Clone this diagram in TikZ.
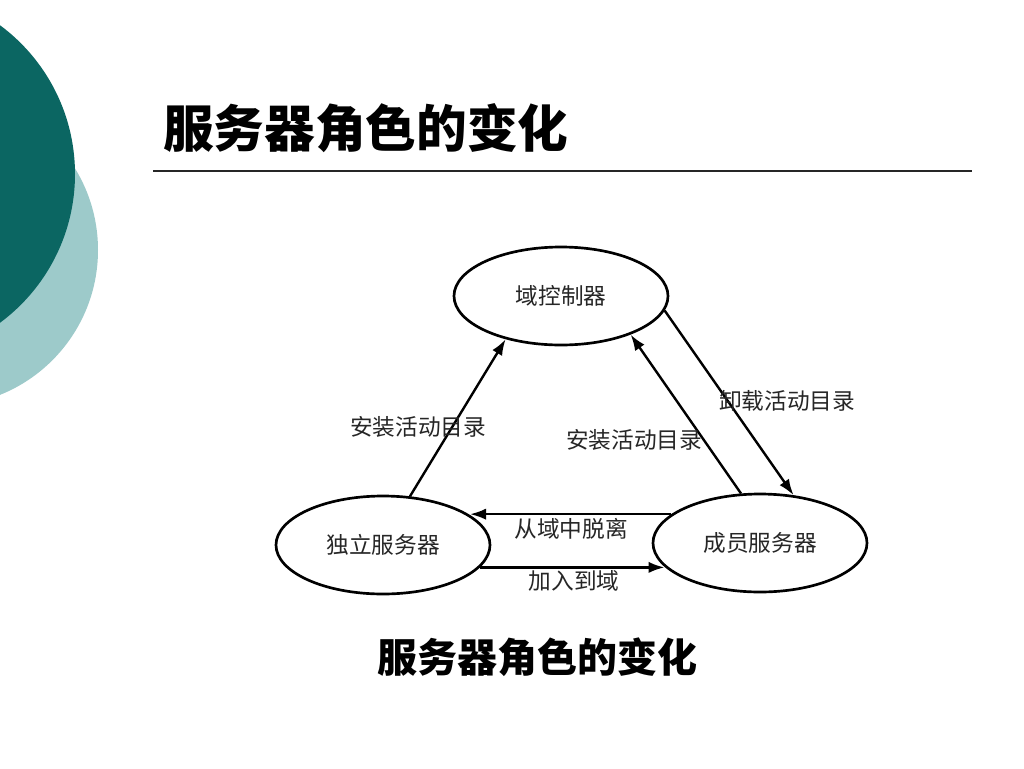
\documentclass[tikz,border=0pt]{standalone}
\usepackage{fontspec}
\newfontfamily\cjk{Noto Sans CJK SC}
\usetikzlibrary{shapes.geometric,arrows.meta}
\definecolor{darkteal}{HTML}{0B6662}
\definecolor{lightteal}{HTML}{9DCACA}
\tikzset{
  state/.style={draw=black, line width=2pt, ellipse, minimum width=160.5pt, minimum height=73.5pt, inner sep=0pt, font=\cjk\fontsize{17}{20}\selectfont, text=black!85},
  conn/.style={line width=1.8pt, -{Latex[length=12pt,width=8.5pt]}},
  lbl/.style={font=\cjk\fontsize{17}{20}\selectfont, text=black!85, inner sep=1pt}
}
\begin{document}
\begin{tikzpicture}[x=0.75pt,y=-0.75pt]
\useasboundingbox (0,0) rectangle (1024,768);
\clip (0,0) rectangle (1024,768);
\fill[white] (0,0) rectangle (1024,768);
% decorative circles
\fill[lightteal] (-58,250) circle[radius=156];
\fill[darkteal] (-110,174) circle[radius=185];
% title
\node[anchor=west, font=\cjk\bfseries\fontsize{38}{44}\selectfont, inner sep=0pt] (title) at (163,128) {服务器角色的变化};
\coordinate (rl) at (153,171);
\coordinate (rr) at (972,171);
\draw[line width=0.9pt, black!85] (rl) -- (rr);
% states
\node[state] (dc) at (561,296) {域控制器};
\node[state] (ind) at (383,545) {独立服务器};
\node[state] (mem) at (760,543) {成员服务器};
% connectors
\draw[conn] (ind.61) -- (dc.218);
\draw[conn] (mem.111) -- (dc.331);
\draw[conn] (dc.352) -- (mem.55);
\draw[conn] (mem.162) -- (mem.162 -| ind.19);
\draw[conn] (ind.-13) -- (ind.-13 -| mem.194);
% labels
\node[lbl] (l1) at (418,427) {安装活动目录};
\node[lbl] (l2) at (634,440) {安装活动目录};
\node[lbl] (l3) at (787,401) {卸载活动目录};
\node[lbl] (l4) at (571,529) {从域中脱离};
\node[lbl] (l5) at (574,581) {加入到域};
% caption
\node[font=\cjk\bfseries\fontsize{30}{36}\selectfont, inner sep=0pt] (cap) at (537,657) {服务器角色的变化};
\end{tikzpicture}
\end{document}
